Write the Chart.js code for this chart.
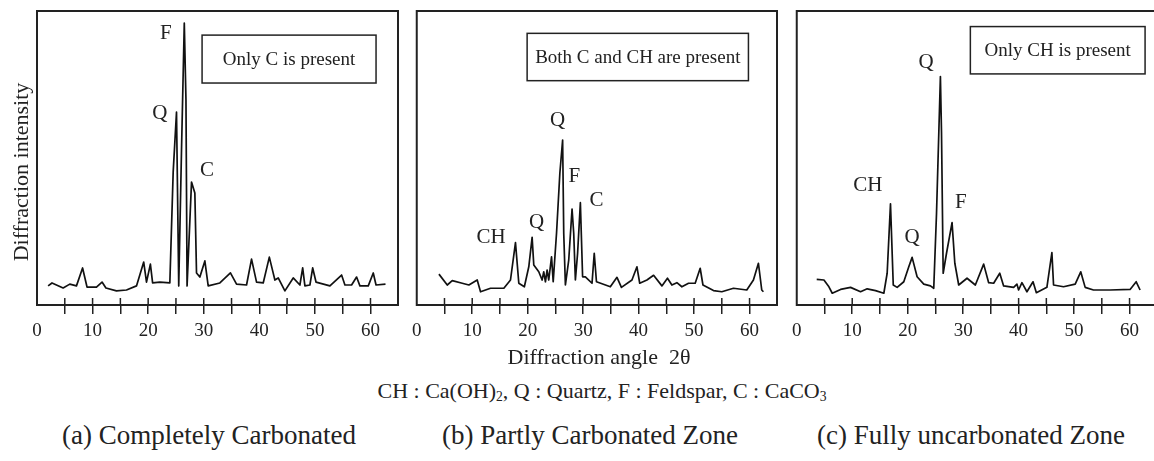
<!DOCTYPE html>
<html>
<head>
<meta charset="utf-8">
<script src="https://cdn.jsdelivr.net/npm/chart.js@4.4.1/dist/chart.umd.min.js"></script>
<style>
  html, body { margin: 0; padding: 0; background: #fff; overflow: hidden; }
  .wrap { position: relative; width: 1154px; height: 461px; overflow: hidden;
          font-family: 'Liberation Serif', 'Times New Roman', serif; color: #222; }
  canvas { position: absolute; top: 0; }
  .txt { position: absolute; white-space: nowrap; line-height: 1; transform: translateX(-50%); }
  sub { font-size: 0.62em; vertical-align: -0.25em; line-height: 0; }
</style>
</head>
<body>
<div class="wrap">
  <canvas id="chartA" width="400" height="350" style="left:0px"></canvas>
  <canvas id="chartB" width="374" height="350" style="left:406px"></canvas>
  <canvas id="chartC" width="374" height="350" style="left:786px"></canvas>

  <div class="txt" style="left:599px; top:346px; font-size:22px;">Diffraction angle&nbsp;&nbsp;2θ</div>
  <div class="txt" style="left:602px; top:380px; font-size:22px;">CH : Ca(OH)<sub>2</sub>, Q : Quartz, F : Feldspar, C : CaCO<sub>3</sub></div>
  <div class="txt" style="left:209px; top:422px; font-size:27px;">(a) Completely Carbonated</div>
  <div class="txt" style="left:590px; top:422px; font-size:27px;">(b) Partly Carbonated Zone</div>
  <div class="txt" style="left:971px; top:422px; font-size:27px;">(c) Fully uncarbonated Zone</div>
</div>

<script>
// 2θ 角度 / 強度 (讀圖估計)
const anglesA = [2.0, 2.7, 4.7, 5.9, 7.1, 8.2, 9.0, 10.7, 11.7, 12.4, 14.3, 16.1, 17.9, 19.2, 19.7,
  20.4, 20.8, 22.1, 23.9, 24.5, 25.1, 25.5, 26.0, 26.5, 26.8, 27.0, 27.8, 28.4, 28.7, 29.3,
  30.2, 30.8, 32.9, 34.8, 35.9, 37.7, 38.6, 39.5, 40.7, 41.8, 42.4, 42.8, 43.4, 44.6, 46.1,
  47.3, 47.8, 48.2, 49.1, 49.6, 50.2, 52.7, 54.8, 55.4, 56.6, 57.5, 58.1, 59.6, 60.5, 61.0, 62.7];
const intensityA = [6.5, 7.5, 5.8, 7.1, 6.5, 12.6, 6.1, 6.1, 7.8, 5.8, 4.8, 5.1, 6.5, 14.6, 7.8,
  13.9, 7.5, 7.8, 7.5, 45.2, 65.6, 6.5, 52.7, 95.9, 70, 6.5, 41.8, 38.1, 10.9, 9.5,
  15, 6.5, 7.5, 10.9, 7.1, 6.8, 15.6, 7.8, 7.5, 16.3, 11.6, 8.5, 9.2, 4.8, 9.2,
  6.8, 12.6, 6.5, 6.8, 12.6, 7.8, 6.5, 10.2, 6.8, 6.8, 9.5, 6.5, 6.5, 10.9, 6.8, 7.1];

const anglesB = [4.0, 5.5, 6.4, 8.2, 9.4, 10.9, 11.5, 13.3, 15.7, 16.9, 17.8, 18.4, 19.4, 20.2, 20.8,
  21.1, 22.0, 22.6, 22.9, 23.2, 23.5, 23.8, 24.3, 24.6, 25.2, 25.8, 26.3, 26.5, 26.8, 27.4,
  28.0, 28.3, 28.6, 29.0, 29.5, 29.9, 30.4, 31.6, 32.0, 32.4, 34.9, 36.1, 36.9, 38.8, 39.7,
  40.2, 41.5, 42.7, 44.2, 45.2, 46.0, 46.9, 47.8, 49.0, 50.2, 51.1, 51.6, 53.5, 55.0, 57.1,
  59.5, 60.7, 61.6, 62.2, 62.5];
const intensityB = [10.5, 6.8, 8.3, 7.4, 6.8, 8.5, 4.5, 5.7, 5.7, 8.5, 21.2, 7.4, 6.2, 13.0, 23.0,
  13.6, 11.3, 8.5, 11.3, 7.9, 11.9, 8.5, 16.4, 7.9, 24.4, 44.8, 56.1, 24.4, 6.8, 15.3,
  32.6, 24.4, 8.5, 17.6, 34.8, 9.6, 9.6, 7.4, 17.6, 7.9, 6.2, 9.4, 6.0, 8.5, 13.0,
  7.4, 8.5, 10.1, 6.5, 9.1, 6.8, 7.6, 6.2, 7.4, 7.4, 12.5, 6.8, 4.9, 4.5, 5.7,
  5.1, 8.5, 14.2, 5.1, 4.5];

const anglesC = [3.6, 4.9, 5.8, 6.4, 7.9, 9.7, 11.5, 12.7, 14.2, 15.7, 16.3, 16.9, 17.4, 18.1, 19.3,
  20.2, 20.8, 21.7, 22.9, 24.1, 24.7, 25.2, 25.9, 26.1, 26.4, 27.0, 28.0, 28.5, 29.2, 30.7,
  32.2, 33.7, 34.6, 35.5, 36.6, 37.3, 39.1, 39.7, 40.0, 40.6, 41.5, 42.6, 43.2, 45.1, 46.0,
  46.3, 48.1, 50.2, 51.2, 52.0, 53.5, 56.5, 60.1, 61.2, 61.9];
const intensityC = [8.7, 8.5, 6.2, 4.0, 5.3, 6.0, 4.5, 5.5, 4.9, 4.0, 10.8, 34.4, 6.8, 6.0, 7.9,
  13.0, 16.2, 9.6, 7.1, 6.5, 5.7, 31.2, 77.7, 58.4, 10.8, 17.6, 28.0, 14.2, 6.8, 9.1,
  6.8, 13.9, 7.6, 7.4, 10.8, 6.5, 6.0, 7.1, 5.1, 7.6, 4.5, 7.9, 4.2, 6.0, 17.8,
  6.8, 6.2, 7.1, 11.3, 6.0, 5.1, 5.1, 5.3, 7.9, 5.1];

// 峰值標記
const peaksA = [{ text: 'F', x: 23.2, y: 92.3 }, { text: 'Q', x: 22.1, y: 65.1 }, { text: 'C', x: 30.6, y: 45.7 }];
const peaksB = [{ text: 'Q', x: 25.4, y: 62.7 }, { text: 'F', x: 28.4, y: 43.8 }, { text: 'C', x: 32.4, y: 35.4 },
  { text: 'Q', x: 21.6, y: 28.0 }, { text: 'CH', x: 13.4, y: 23.0 }];
const peaksC = [{ text: 'Q', x: 23.3, y: 82.6 }, { text: 'CH', x: 12.8, y: 40.6 },
  { text: 'Q', x: 20.8, y: 22.8 }, { text: 'F', x: 29.6, y: 34.8 }];

const FONT = "'Liberation Serif', 'Times New Roman', serif";
const INK = '#222';

// 外框、內側刻度、說明框、峰值文字
const framePlugin = {
  id: 'frame',
  afterDatasetsDraw(chart, args, opts) {
    const { ctx, chartArea: a, scales: { x, y } } = chart;
    ctx.save();
    ctx.strokeStyle = INK;
    ctx.lineWidth = 2;
    ctx.strokeRect(a.left, a.top, a.right - a.left, a.bottom - a.top);

    // 刻度往內
    ctx.lineWidth = 1.5;
    x.ticks.forEach(t => {
      if (t.value === 0) return;
      const px = x.getPixelForValue(t.value);
      ctx.beginPath();
      ctx.moveTo(px, a.bottom);
      ctx.lineTo(px, a.bottom - 7);
      ctx.stroke();
    });

    const note = opts.note;
    if (note) {
      const x1 = x.getPixelForValue(note.x[0]), x2 = x.getPixelForValue(note.x[1]);
      const y1 = y.getPixelForValue(note.y[1]), y2 = y.getPixelForValue(note.y[0]);
      ctx.lineWidth = 1.5;
      ctx.strokeRect(x1, y1, x2 - x1, y2 - y1);
      ctx.fillStyle = INK;
      ctx.font = '19px ' + FONT;
      ctx.textAlign = 'center';
      ctx.textBaseline = 'middle';
      ctx.fillText(note.text, (x1 + x2) / 2, (y1 + y2) / 2 + 1);
    }

    ctx.fillStyle = INK;
    ctx.font = '21px ' + FONT;
    ctx.textAlign = 'center';
    ctx.textBaseline = 'middle';
    (opts.peaks || []).forEach(p => {
      ctx.fillText(p.text, x.getPixelForValue(p.x), y.getPixelForValue(p.y));
    });

    if (opts.yTitle) {
      ctx.translate(22, 172);
      ctx.rotate(-Math.PI / 2);
      ctx.font = '22px ' + FONT;
      ctx.fillText(opts.yTitle, 0, 0);
    }
    ctx.restore();
  }
};

function makePanel(id, angles, intensity, peaks, note, padLeft, padRight, yTitle) {
  const ctx = document.getElementById(id).getContext('2d');
  return new Chart(ctx, {
    type: 'line',
    data: {
      datasets: [{
        data: angles.map((a, i) => ({ x: a, y: intensity[i] })),
        borderColor: '#111',
        borderWidth: 1.7,
        borderJoinStyle: 'round',
        pointRadius: 0,
        tension: 0,
        fill: false
      }]
    },
    options: {
      responsive: false,
      animation: false,
      devicePixelRatio: 1,
      layout: { padding: { top: 11, left: padLeft, right: padRight, bottom: 0 } },
      scales: {
        x: {
          type: 'linear',
          min: 0,
          max: 64.95,
          afterFit: scale => { scale.height = 45; },
          border: { display: false },
          grid: {
            drawOnChartArea: false,
            drawTicks: true,
            tickLength: 9,
            lineWidth: 1.5,
            color: c => (c.tick && c.tick.value === 0) ? 'rgba(0,0,0,0)' : INK
          },
          ticks: {
            stepSize: 5,
            autoSkip: false,
            includeBounds: false,
            maxRotation: 0,
            padding: 6,
            color: INK,
            font: { family: FONT, size: 19 },
            callback: v => (v % 10 === 0 ? v : '')
          }
        },
        y: { display: false, min: 0, max: 100 }
      },
      plugins: {
        legend: { display: false },
        tooltip: { enabled: false },
        frame: { peaks: peaks, note: note, yTitle: yTitle }
      }
    },
    plugins: [framePlugin]
  });
}

makePanel('chartA', anglesA, intensityA, peaksA,
  { text: 'Only C is present', x: [29.7, 61.0], y: [75.5, 91.8] }, 37, 2, 'Diffraction intensity');
makePanel('chartB', anglesB, intensityB, peaksB,
  { text: 'Both C and CH are present', x: [19.9, 59.8], y: [76.3, 92.4] }, 10, 3, null);
makePanel('chartC', anglesC, intensityC, peaksC,
  { text: 'Only CH is present', x: [31.3, 62.8], y: [78.6, 94.7] }, 10, 3, null);
</script>
</body>
</html>
